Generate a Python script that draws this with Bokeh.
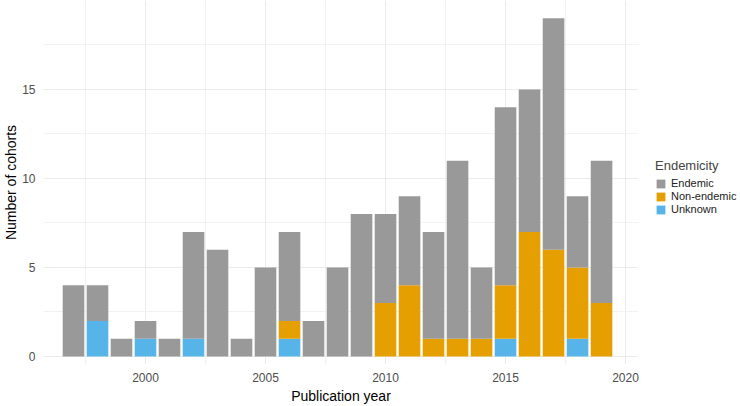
from bokeh.plotting import figure
from bokeh.models import Range1d, FixedTicker, Legend, LegendItem, ColumnDataSource
from bokeh.embed import file_html
from bokeh.resources import INLINE

years = list(range(1997, 2020))
endemic =     [4, 2, 1, 1, 1, 6, 6, 1, 5, 5, 2, 5, 8, 5, 5, 6, 10, 4, 10, 8, 13, 4, 8]
non_endemic = [0, 0, 0, 0, 0, 0, 0, 0, 0, 1, 0, 0, 0, 3, 4, 1, 1, 1, 3, 7, 6, 4, 3]
unknown =     [0, 2, 0, 1, 0, 1, 0, 0, 0, 1, 0, 0, 0, 0, 0, 0, 0, 0, 1, 0, 0, 1, 0]
series_labels = ["Endemic", "Non-endemic", "Unknown"]
series_colors = ["#999999", "#E69F00", "#56B4E9"]
x_ticks = [2000, 2005, 2010, 2015, 2020]
x_minor = [1997.5, 2002.5, 2007.5, 2012.5, 2017.5]
y_ticks = [0, 5, 10, 15]
y_minor = [2.5, 7.5, 12.5, 17.5]

src = ColumnDataSource(dict(year=years, endemic=endemic, non_endemic=non_endemic, unknown=unknown))

FONT = "Liberation Sans"

p = figure(width=724, height=390, frame_width=595, frame_height=364,
           output_backend="svg", toolbar_location=None,
           x_range=Range1d(1995.75, 2020.54), y_range=Range1d(-0.45, 20.0),
           min_border_top=0, min_border_right=0, min_border_left=0, min_border_bottom=0)
p.outline_line_color = None
p.background_fill_color = "white"

rs = p.vbar_stack(["unknown", "non_endemic", "endemic"], x="year", width=0.9, source=src,
                  color=[series_colors[2], series_colors[1], series_colors[0]], line_color=None)

legend = Legend(items=[LegendItem(label=series_labels[0], renderers=[rs[2]]),
                       LegendItem(label=series_labels[1], renderers=[rs[1]]),
                       LegendItem(label=series_labels[2], renderers=[rs[0]])],
                location=(17, 149), title="Endemicity")
legend.title_text_font = FONT
legend.title_text_font_size = "13px"
legend.title_text_font_style = "normal"
legend.title_standoff = 4
legend.label_text_font = FONT
legend.label_text_font_size = "11px"
legend.label_text_color = "#222222"
legend.glyph_width = 11
legend.glyph_height = 11
legend.label_height = 11
legend.label_standoff = 5
legend.spacing = 1
legend.padding = 0
legend.margin = 16
legend.border_line_color = None
legend.background_fill_alpha = 0
p.add_layout(legend, "right")

p.xaxis.ticker = FixedTicker(ticks=x_ticks, minor_ticks=x_minor)
p.yaxis.ticker = FixedTicker(ticks=y_ticks, minor_ticks=y_minor)
for ax in (p.xaxis, p.yaxis):
    ax.axis_line_color = None
    ax.major_tick_line_color = None
    ax.minor_tick_line_color = None
    ax.major_label_text_font = FONT
    ax.major_label_text_font_size = "12px"
    ax.major_label_text_color = "#4D4D4D"
    ax.axis_label_text_font = FONT
    ax.axis_label_text_font_size = "14px"
    ax.axis_label_text_font_style = "normal"
    ax.axis_label_text_color = "black"
    ax.major_label_standoff = 2
    ax.axis_label_standoff = 0
p.xaxis.axis_label_standoff = 3
p.xaxis.axis_label = "Publication year"
p.yaxis.axis_label = "Number of cohorts"

for g in (p.xgrid, p.ygrid):
    g.grid_line_color = "#EBEBEB"
    g.grid_line_width = 1
    g.minor_grid_line_color = "#F2F2F2"
    g.minor_grid_line_width = 1

open("out.html", "w").write(file_html(p, INLINE))
